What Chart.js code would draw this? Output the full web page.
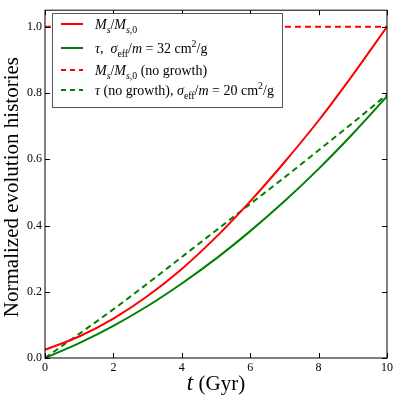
<!DOCTYPE html>
<html>
<head>
<meta charset="utf-8">
<script src="https://cdn.jsdelivr.net/npm/chart.js@4.4.1/dist/chart.umd.min.js"></script>
<style>
  html, body { margin: 0; padding: 0; background: #fff; }
  #wrap { width: 398px; height: 403px; }
</style>
</head>
<body>
<div id="wrap"><canvas id="evoChart" width="398" height="403"></canvas></div>
<script>
"use strict";

// time in Gyr and the four normalized histories
const times = [0, 1, 2, 3, 4, 5, 6, 7, 8, 9, 10];
const massRatio = [0.025, 0.065, 0.119, 0.187, 0.269, 0.365, 0.473, 0.591, 0.717, 0.855, 1.0];
const tauGrowth = [0, 0.045, 0.097, 0.157, 0.225, 0.30, 0.383, 0.473, 0.571, 0.677, 0.79];
const massNoGrowth = [1, 1, 1, 1, 1, 1, 1, 1, 1, 1, 1];
const tauNoGrowth = [0, 0.073, 0.147, 0.225, 0.305, 0.385, 0.465, 0.545, 0.627, 0.71, 0.795];

const xTicks = [0, 2, 4, 6, 8, 10];
const yTicks = [0, 0.2, 0.4, 0.6, 0.8, 1.0];

const RED = "#ff0000";
const GREEN = "#008000";
const SERIF = "'Liberation Serif', 'DejaVu Serif', serif";

let pts = function (ys) {
  return times.map(function (t, i) { return {x: t, y: ys[i]}; });
};

// legend entries: pieces of [text, style]  i = italic, r = roman, s = subscript, p = superscript
const legendRows = [
  {color: RED, dash: [], parts: [["M", "i"], ["s", "is"], ["/", "r"], ["M", "i"], ["s", "is"], [",0", "rs"]]},
  {color: GREEN, dash: [], parts: [["τ", "i"], [",  ", "r"], ["σ", "i"], ["eff", "rs"], ["/", "r"], ["m", "i"], [" = 32 cm", "r"], ["2", "rp"], ["/g", "r"]]},
  {color: RED, dash: [5, 4], parts: [["M", "i"], ["s", "is"], ["/", "r"], ["M", "i"], ["s", "is"], [",0", "rs"], [" (no growth)", "r"]]},
  {color: GREEN, dash: [5, 4], parts: [["τ", "i"], [" (no growth), ", "r"], ["σ", "i"], ["eff", "rs"], ["/", "r"], ["m", "i"], [" = 20 cm", "r"], ["2", "rp"], ["/g", "r"]]}
];

let drawRich = function (ctx, x, y, parts, size) {
  ctx.textBaseline = "alphabetic";
  ctx.textAlign = "left";
  for (const [text, style] of parts) {
    let italic = style[0] === "i";
    let small = style.length > 1;
    let fs = small ? size * 0.7 : size;
    let dy = 0;
    if (style.endsWith("s")) dy = size * 0.25;
    if (style.endsWith("p")) dy = -size * 0.4;
    ctx.font = (italic ? "italic " : "") + fs + "px " + SERIF;
    ctx.fillText(text, x, y + dy);
    x += ctx.measureText(text).width;
  }
};

const framePlugin = {
  id: "frame",
  afterDatasetsDraw(chart) {
    const ctx = chart.ctx;
    const a = chart.chartArea;
    const xs = chart.scales.x;
    const ys = chart.scales.y;
    ctx.save();
    ctx.strokeStyle = "#000";
    ctx.lineWidth = 1;
    ctx.setLineDash([]);
    ctx.strokeRect(a.left, a.top, a.right - a.left, a.bottom - a.top);
    // inward ticks on all four sides
    ctx.beginPath();
    for (const v of xTicks) {
      let px = Math.round(xs.getPixelForValue(v)) + 0.5;
      ctx.moveTo(px, a.bottom); ctx.lineTo(px, a.bottom - 5);
      ctx.moveTo(px, a.top); ctx.lineTo(px, a.top + 5);
    }
    for (const v of yTicks) {
      let py = Math.round(ys.getPixelForValue(v)) + 0.5;
      ctx.moveTo(a.left, py); ctx.lineTo(a.left + 5, py);
      ctx.moveTo(a.right, py); ctx.lineTo(a.right - 5, py);
    }
    ctx.stroke();

    // legend box
    ctx.fillStyle = "#fff";
    ctx.fillRect(52, 13, 230, 94);
    ctx.strokeStyle = "#555";
    ctx.strokeRect(52.5, 13.5, 230, 94);
    const rowY = [24, 48, 70, 90];
    legendRows.forEach(function (row, i) {
      ctx.strokeStyle = row.color;
      ctx.lineWidth = 2;
      ctx.setLineDash(row.dash);
      ctx.beginPath();
      ctx.moveTo(61, rowY[i]);
      ctx.lineTo(83, rowY[i]);
      ctx.stroke();
      ctx.fillStyle = "#000";
      drawRich(ctx, 95, rowY[i] + 5, row.parts, 14);
    });

    // axis titles
    ctx.fillStyle = "#000";
    ctx.save();
    ctx.translate(12, (a.top + a.bottom) / 2 + 3);
    ctx.rotate(-Math.PI / 2);
    ctx.font = "21px " + SERIF;
    ctx.textAlign = "center";
    ctx.textBaseline = "middle";
    ctx.fillText("Normalized evolution histories", 0, 0);
    ctx.restore();

    ctx.font = "italic 23px " + SERIF;
    let w1 = ctx.measureText("t").width;
    ctx.font = "21px " + SERIF;
    let w2 = ctx.measureText(" (Gyr)").width;
    let sx = (a.left + a.right) / 2 - (w1 + w2) / 2;
    ctx.textAlign = "left";
    ctx.textBaseline = "alphabetic";
    ctx.font = "italic 23px " + SERIF;
    ctx.fillText("t", sx, 390);
    ctx.font = "21px " + SERIF;
    ctx.fillText(" (Gyr)", sx + w1, 390);
    ctx.restore();
  }
};

const ctx = document.getElementById("evoChart").getContext("2d");

let line = function (data, color, dash) {
  return {
    data: pts(data),
    borderColor: color,
    borderWidth: 2,
    borderDash: dash,
    pointRadius: 0,
    fill: false,
    cubicInterpolationMode: "monotone"
  };
};

let config = {
  type: "line",
  data: {
    datasets: [
      line(massRatio, RED, []),
      line(tauGrowth, GREEN, []),
      line(massNoGrowth, RED, [6, 4]),
      line(tauNoGrowth, GREEN, [6, 4])
    ]
  },
  options: {
    responsive: false,
    animation: false,
    layout: {padding: {left: 0, right: 11, top: 6, bottom: 0}},
    plugins: {legend: {display: false}, tooltip: {enabled: false}},
    scales: {
      x: {
        type: "linear",
        min: 0,
        max: 10,
        grid: {display: false, drawTicks: false},
        border: {display: false},
        afterBuildTicks: function (s) { s.ticks = xTicks.map(function (v) { return {value: v}; }); },
        afterFit: function (s) { s.height = 45; },
        ticks: {
          color: "#000",
          padding: 3,
          maxRotation: 0,
          font: {family: SERIF, size: 12},
          callback: function (v) { return String(v); }
        }
      },
      y: {
        min: 0,
        max: 1.05,
        grid: {display: false, drawTicks: false},
        border: {display: false},
        afterBuildTicks: function (s) { s.ticks = yTicks.map(function (v) { return {value: v}; }); },
        afterFit: function (s) { s.width = 45; },
        ticks: {
          color: "#000",
          padding: 3,
          font: {family: SERIF, size: 12},
          callback: function (v) { return v.toFixed(1); }
        }
      }
    }
  },
  plugins: [framePlugin]
};

const evoChart = new Chart(ctx, config);
</script>
</body>
</html>
